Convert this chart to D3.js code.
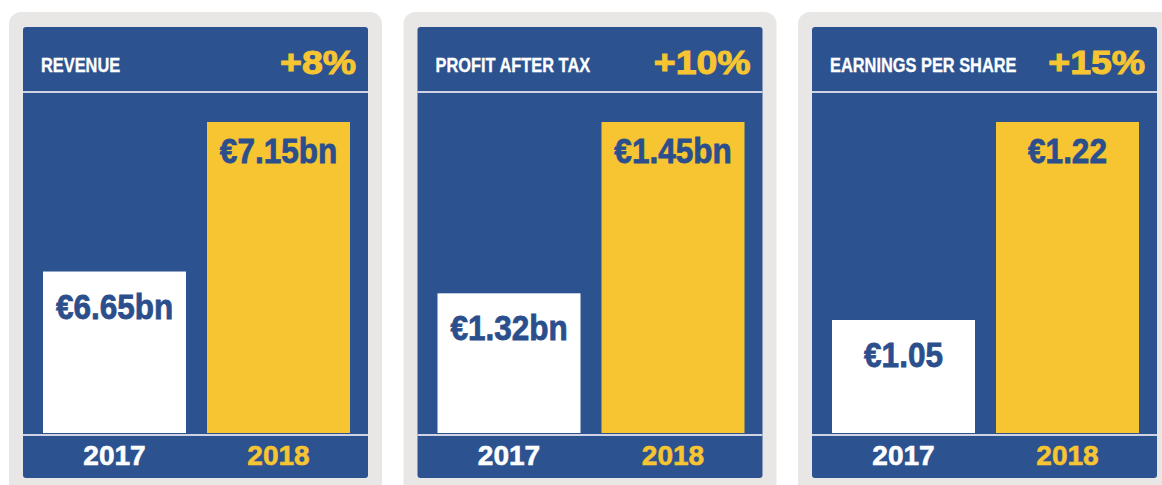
<!DOCTYPE html>
<html>
<head>
<meta charset="utf-8">
<script src="https://cdn.jsdelivr.net/npm/d3@7"></script>
<style>
  body { margin: 0; background: #fff; }
  svg { display: block; font-family: "Liberation Sans", Arial, sans-serif; font-weight: bold; }
</style>
</head>
<body>
<div id="chart"></div>
<script>
var metrics = ["REVENUE", "PROFIT AFTER TAX", "EARNINGS PER SHARE"];
var years = ["2017", "2018"];
var values2017 = [6.65, 1.32, 1.05];
var values2018 = [7.15, 1.45, 1.22];
var units = ["bn", "bn", ""];
var growth = ["+8%", "+10%", "+15%"];
// the bars don't start from zero, each panel has its own floor
var axisFloor = [6.11, 1.214, 0.953];

var width = 1162,
    height = 485,
    pitch = 394.5,
    panelLeft = 23,
    panelW = 345,
    panelTop = 27,
    panelBottom = 478,
    headerLine = 92,
    baseY = 433,
    barTop = 122;

var blue = "#2c5390",
    yellow = "#f7c531",
    grey = "#e8e7e5",
    line = "#cfd3e4",
    textBlue = "#2b4e8c";

var svg = d3.select("#chart").append("svg")
    .attr("width", width)
    .attr("height", height);

var x = d3.scaleBand()
    .domain(years)
    .range([20, 327])
    .paddingInner(0.128)
    .paddingOuter(0);

metrics.forEach(function(m, i) {
  var g = svg.append("g")
      .attr("transform", "translate(" + (panelLeft + i * pitch) + ",0)");

  var vals = [values2017[i], values2018[i]];
  var y = d3.scaleLinear()
      .domain([axisFloor[i], d3.max(vals)])
      .range([baseY, barTop]);

  g.append("rect")
      .attr("x", -14).attr("y", 12)
      .attr("width", panelW + 28).attr("height", 490)
      .attr("rx", 12)
      .attr("fill", grey);

  g.append("rect")
      .attr("x", 0).attr("y", panelTop)
      .attr("width", panelW).attr("height", panelBottom - panelTop)
      .attr("rx", 3)
      .attr("fill", blue);

  g.append("rect")
      .attr("x", 0).attr("y", headerLine - 1)
      .attr("width", panelW).attr("height", 2)
      .attr("fill", line);

  g.append("rect")
      .attr("x", 0).attr("y", baseY + 1)
      .attr("width", panelW).attr("height", 2)
      .attr("fill", line);

  g.append("g")
      .attr("transform", "translate(18,72)")
    .append("text")
      .attr("transform", "scale(0.84,1)")
      .attr("fill", "#fff")
      .attr("stroke", "#fff")
      .attr("stroke-width", 0.3)
      .attr("font-size", 19.5)
      .text(m);

  g.append("g")
      .attr("transform", "translate(" + (panelW - 12) + ",74)")
    .append("text")
      .attr("transform", "scale(1.1,1)")
      .attr("text-anchor", "end")
      .attr("fill", yellow)
      .attr("stroke", yellow)
      .attr("stroke-width", 1)
      .attr("font-size", 34)
      .text(growth[i]);

  var data = years.map(function(yr, j) { return { year: yr, value: vals[j] }; });

  g.selectAll(".bar")
      .data(data)
    .enter().append("rect")
      .attr("class", "bar")
      .attr("x", function(d) { return x(d.year); })
      .attr("y", function(d) { return y(d.value); })
      .attr("width", x.bandwidth())
      .attr("height", function(d) { return baseY - y(d.value); })
      .attr("fill", function(d, j) { return j === 0 ? "#fff" : yellow; });

  g.selectAll(".val")
      .data(data)
    .enter().append("g")
      .attr("class", "val")
      .attr("transform", function(d, j) {
        return "translate(" + (x(d.year) + x.bandwidth() / 2) + "," + (y(d.value) + (j === 0 ? 47 : 41)) + ")";
      })
    .append("text")
      .attr("transform", "scale(0.9,1)")
      .attr("text-anchor", "middle")
      .attr("fill", textBlue)
      .attr("stroke", textBlue)
      .attr("stroke-width", 0.8)
      .attr("font-size", 35)
      .text(function(d) { return "€" + d.value.toFixed(2) + units[i]; });

  g.selectAll(".yr")
      .data(data)
    .enter().append("text")
      .attr("class", "yr")
      .attr("x", function(d) { return x(d.year) + x.bandwidth() / 2; })
      .attr("y", 465)
      .attr("text-anchor", "middle")
      .attr("fill", function(d, j) { return j === 0 ? "#fff" : yellow; })
      .attr("stroke", function(d, j) { return j === 0 ? "#fff" : yellow; })
      .attr("stroke-width", 0.6)
      .attr("font-size", 28)
      .text(function(d) { return d.year; });
});
</script>
</body>
</html>
